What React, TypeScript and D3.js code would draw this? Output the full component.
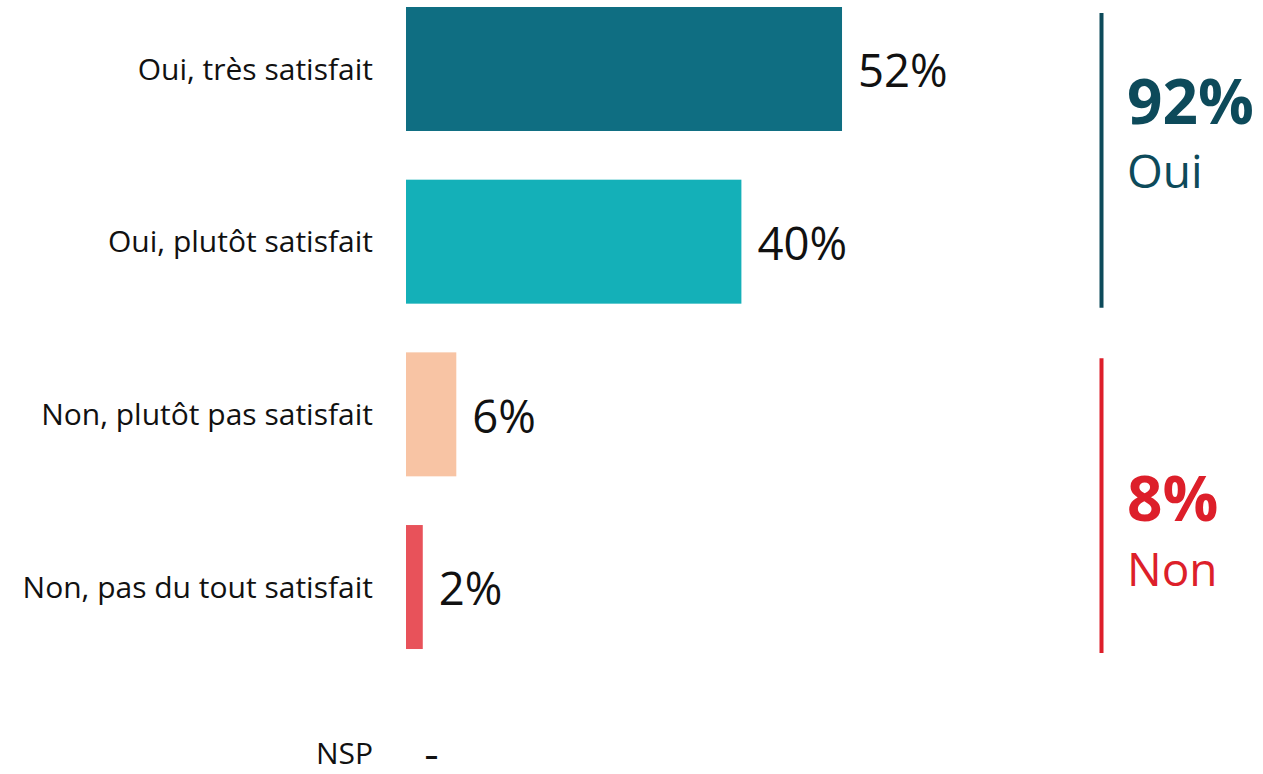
import React from 'react';
import * as d3 from 'd3';

const categories = [
  'Oui, très satisfait',
  'Oui, plutôt satisfait',
  'Non, plutôt pas satisfait',
  'Non, pas du tout satisfait',
  'NSP',
];
const values: (number | null)[] = [52, 40, 6, 2, null];
const barColors = ['#0f6e82', '#14b0b8', '#f8c4a4', '#e8525a', '#cccccc'];

const groupNames = ['Oui', 'Non'];
const groupTotals = ['92%', '8%'];
const groupFirst = [0, 2];
const groupLast = [1, 3];
const groupColors = ['#0d4a5a', '#dd1f2a'];

const W = 1263;
const H = 774;
const FONT = '"Open Sans", "Noto Sans", sans-serif';

export default function App() {
  const x = d3.scaleLinear().domain([0, 100]).range([406, 1244.5]);
  const y = d3.scaleBand<string>().domain(categories).range([7, 821.7]).paddingInner(0.282).paddingOuter(0);
  const bw = y.bandwidth();

  // where the big total + name sit inside each bracket
  const textOffsets = [
    { total: 111, name: 175 },
    { total: 163, name: 228 },
  ];

  return (
    <div style={{ position: 'absolute', left: 0, top: 0 }}>
      <svg width={W} height={H} style={{ display: 'block', fontFamily: FONT }}>
        <rect width={W} height={H} fill="#fff" />
        {categories.map((c, i) => {
          const y0 = y(c) as number;
          const cy = y0 + bw / 2;
          const v = values[i];
          // last row runs into the bottom edge, nudge its texts up a little
          const last = i === categories.length - 1;
          return (
            <g key={c}>
              <text x={373} y={last ? cy + 4.5 : cy} dy={last ? 0 : '0.36em'} textAnchor="end" fontSize={30} fill="#111">
                {c}
              </text>
              {v != null && v > 0 && (
                <rect x={x(0)} y={y0} width={x(v) - x(0)} height={bw} fill={barColors[i]} />
              )}
              {v == null ? (
                <text x={x(0) + 19} y={cy + 5.5} fontSize={26} fontWeight={700} fill="#111">–</text>
              ) : (
                <text x={x(v) + 16} y={cy} dy="0.4em" fontSize={45.5} fill="#111">
                  {`${v}%`}
                </text>
              )}
            </g>
          );
        })}
        {groupNames.map((g, i) => {
          const top = (y(categories[groupFirst[i]]) as number) + 6;
          const bottom = (y(categories[groupLast[i]]) as number) + bw + 4;
          const off = textOffsets[i];
          return (
            <g key={g} fill={groupColors[i]}>
              <line x1={1101.5} x2={1101.5} y1={top} y2={bottom} stroke={groupColors[i]} strokeWidth={4} />
              <text x={1127} y={top + off.total} fontSize={62} fontWeight={700}>
                {groupTotals[i]}
              </text>
              <text x={1127} y={top + off.name} fontSize={46}>
                {g}
              </text>
            </g>
          );
        })}
      </svg>
    </div>
  );
}
